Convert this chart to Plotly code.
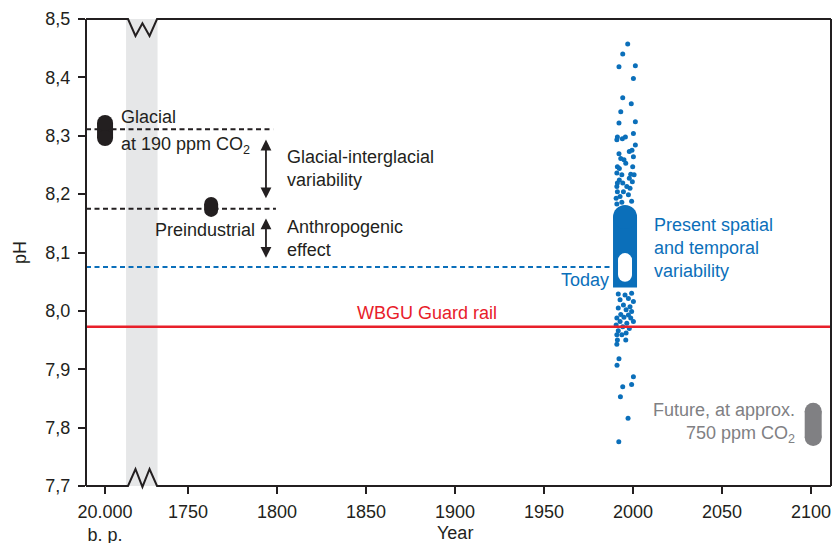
import plotly.graph_objects as go

# ---------------- data ----------------
x_range = [1692.7, 2111.2]
y_range = [7.7, 8.5]

y_ticks = [7.7, 7.8, 7.9, 8.0, 8.1, 8.2, 8.3, 8.4, 8.5]
y_tick_labels = ["7,7", "7,8", "7,9", "8,0", "8,1", "8,2", "8,3", "8,4", "8,5"]
x_ticks = [1703.4, 1750, 1800, 1850, 1900, 1950, 2000, 2050, 2100]
x_tick_labels = ["20.000<br>b. p.", "1750", "1800", "1850", "1900", "1950", "2000", "2050", "2100"]

# axis break (grey band) and zigzag positions (years)
break_band = [1715.2, 1732.9]
zigzag_years = [1716.3, 1720.5, 1724.4, 1728.4, 1732.6]

# levels
glacial_level = 8.311
preind_level = 8.175
today_level = 8.075
guard_rail = 7.973
glacial_line_end = 1797.8
preind_line_end = 1799.4
today_line_end = 1988.8

# pills: (year, [pH low, pH high])
glacial_year, glacial_ph = 1703.4, [8.296, 8.322]
preind_year, preind_ph = 1763.0, [8.173, 8.183]
present_year, present_core_ph = 1995.5, [8.040, 8.161]
today_ph = [8.062, 8.087]
future_year, future_ph = 2101.2, [7.783, 7.828]

# present spatial/temporal variability scatter points
dots_year = [
    1997.0, 1994.2, 1992.1, 2001.3, 2000.2, 1994.2, 1999.0, 1993.1, 1992.1, 2001.3,
    1991.2, 1990.9, 1994.0, 1995.7, 2000.2, 2001.3, 1992.1, 1993.1, 1994.9, 1997.9,
    1999.4, 2000.2, 1995.9, 1991.2, 1992.3, 1999.8, 1990.9, 1993.7, 1998.7, 2000.6,
    1997.9, 1992.3, 1991.2, 1994.2, 1999.6, 1996.5, 1998.3, 1990.9, 1991.2, 1994.6,
    1997.4, 1992.7, 1990.5, 1999.2, 1993.7, 1990.9,
    1991.7, 1995.5, 1999.2, 1992.7, 1997.4, 2000.2, 1994.6, 1998.3, 1991.7, 1996.1,
    1999.2, 1993.1, 1997.4, 1990.9, 1994.9, 1998.7, 1992.7, 1996.5, 2000.2, 1990.5,
    1994.2, 1997.9, 1991.7, 1996.1, 1990.9, 1993.7, 1991.2, 1995.9, 1990.9, 1992.1,
    1991.0, 2000.2, 1999.2, 1994.2, 1992.9, 1997.2, 1992.0,
]
dots_ph = [
    8.457, 8.440, 8.418, 8.420, 8.398, 8.365, 8.355, 8.341, 8.322, 8.324,
    8.298, 8.293, 8.295, 8.298, 8.304, 8.284, 8.269, 8.261, 8.259, 8.273,
    8.275, 8.264, 8.253, 8.247, 8.244, 8.247, 8.236, 8.233, 8.234, 8.233,
    8.227, 8.224, 8.219, 8.219, 8.221, 8.213, 8.210, 8.213, 8.204, 8.204,
    8.199, 8.196, 8.193, 8.188, 8.186, 8.183,
    8.029, 8.027, 8.030, 8.019, 8.021, 8.016, 8.010, 8.007, 8.005, 8.002,
    7.999, 7.994, 7.993, 7.988, 7.989, 7.988, 7.982, 7.979, 7.982, 7.976,
    7.973, 7.970, 7.966, 7.962, 7.959, 7.959, 7.950, 7.950, 7.943, 7.918,
    7.907, 7.887, 7.874, 7.870, 7.853, 7.816, 7.776,
]

# ---------------- style ----------------
FONT = "Liberation Sans, Arial, Helvetica, sans-serif"
DARK = "#231f20"
BLUE = "#0b6fba"
RED = "#e8202a"
GREY = "#808083"
FS = 18


def to_paper_x(year):
    return (year - x_range[0]) / (x_range[1] - x_range[0])


fig = go.Figure()

# dashed reference lines
for lvl, xe, col in [(glacial_level, glacial_line_end, DARK),
                     (preind_level, preind_line_end, DARK),
                     (today_level, today_line_end, BLUE)]:
    fig.add_trace(go.Scatter(x=[x_range[0], xe], y=[lvl, lvl], mode="lines",
                             line=dict(color=col, width=2, dash="5px,3.5px"),
                             hoverinfo="skip"))


def vline(year, ph, width, color):
    fig.add_trace(go.Scatter(x=[year, year], y=ph, mode="lines",
                             line=dict(color=color, width=width), hoverinfo="skip"))


def caps(year, ph, width, color):
    fig.add_trace(go.Scatter(x=[year] * len(ph), y=ph, mode="markers",
                             marker=dict(color=color, size=width, opacity=1,
                                         line=dict(width=0)),
                             hoverinfo="skip"))


def pill(year, ph, width, color):
    vline(year, ph, width, color)
    caps(year, ph, width, color)


# scatter dots
fig.add_trace(go.Scatter(x=dots_year, y=dots_ph, mode="markers",
                         marker=dict(color=BLUE, size=5, line=dict(width=0)),
                         hoverinfo="skip"))
# core of present variability (rounded top, flat bottom)
vline(present_year, present_core_ph, 24, BLUE)
caps(present_year, present_core_ph[1:], 24, BLUE)
# today (white)
pill(present_year, today_ph, 14, "white")
# glacial, preindustrial, future
pill(glacial_year, glacial_ph, 16, DARK)
pill(preind_year, preind_ph, 14, DARK)
pill(future_year, future_ph, 17, GREY)

# guard rail
fig.add_trace(go.Scatter(x=list(x_range), y=[guard_rail, guard_rail], mode="lines",
                         line=dict(color=RED, width=2.5), hoverinfo="skip"))

# ---------------- shapes (frame with axis break) ----------------
shapes = []
shapes.append(dict(type="rect", xref="x", yref="paper", x0=break_band[0], x1=break_band[1],
                   y0=0, y1=1, fillcolor="#e6e7e8", line=dict(width=0), layer="below"))
zx = [to_paper_x(v) for v in zigzag_years]
amp = 17 / 467.0
top_path = (f"M 0,1 L {zx[0]},1 L {zx[1]},{1-amp} L {zx[2]},{1-amp*0.25} "
            f"L {zx[3]},{1-amp} L {zx[4]},1 L 1,1")
bot_path = (f"M 0,0 L {zx[0]},0 L {zx[1]},{amp} L {zx[2]},{-0.002} "
            f"L {zx[3]},{amp} L {zx[4]},0 L 1,0")
for p in (top_path, bot_path):
    shapes.append(dict(type="path", xref="paper", yref="paper", path=p,
                       line=dict(color=DARK, width=2)))
shapes.append(dict(type="line", xref="paper", yref="paper", x0=0, x1=0, y0=0, y1=1,
                   line=dict(color=DARK, width=2)))
shapes.append(dict(type="line", xref="paper", yref="paper", x0=1, x1=1, y0=0, y1=1,
                   line=dict(color=DARK, width=2)))

# ---------------- annotations ----------------
ann = []


def text(x, y, s, color=DARK, xanchor="left"):
    ann.append(dict(x=x, y=y, xref="x", yref="y", text=s, showarrow=False,
                    xanchor=xanchor, yanchor="middle",
                    font=dict(family=FONT, size=FS, color=color)))


text(1711.2, 8.332, "Glacial")
text(1711.2, 8.283, "at 190 ppm CO<sub>2</sub>")
text(1759.3, 8.139, "Preindustrial", xanchor="center")
text(1804.5, 8.264, "Glacial-interglacial")
text(1804.5, 8.224, "variability")
text(1804.5, 8.144, "Anthropogenic")
text(1804.5, 8.104, "effect")
text(2010.7, 8.147, "Present spatial", BLUE)
text(2010.7, 8.108, "and temporal", BLUE)
text(2010.7, 8.068, "variability", BLUE)
text(1987.6, 8.053, "Today", BLUE, xanchor="right")
text(1884.3, 7.997, "WBGU Guard rail", RED, xanchor="center")
text(2092.1, 7.830, "Future, at approx.", GREY, xanchor="right")
text(2092.1, 7.789, "750 ppm CO<sub>2</sub>", GREY, xanchor="right")

# double-headed arrows
for y0, y1 in [(8.296, 8.193), (8.161, 8.091)]:
    ann.append(dict(x=1793.8, y=y1, ax=1793.8, ay=y0, xref="x", yref="y",
                    axref="x", ayref="y", showarrow=True, text="",
                    arrowhead=2, startarrowhead=2, arrowside="end+start",
                    arrowsize=1.2, startarrowsize=1.2, arrowwidth=1.8, arrowcolor=DARK))

# x axis title
ann.append(dict(x=to_paper_x(1900), y=0, xref="paper",
                yref="paper", yshift=-47, text="Year", showarrow=False,
                xanchor="center", yanchor="middle",
                font=dict(family=FONT, size=FS, color=DARK)))

fig.update_layout(
    width=835, height=543,
    margin=dict(l=86, r=4, t=19, b=57, autoexpand=False),
    paper_bgcolor="white", plot_bgcolor="white",
    showlegend=False,
    font=dict(family=FONT, size=FS, color=DARK),
    shapes=shapes, annotations=ann,
    xaxis=dict(range=x_range, tickvals=x_ticks, ticktext=x_tick_labels,
               ticks="outside", ticklen=7, tickwidth=2, tickcolor=DARK,
               ticklabelstandoff=2, automargin=False,
               showgrid=False, zeroline=False, showline=False,
               tickfont=dict(family=FONT, size=FS, color=DARK)),
    yaxis=dict(range=y_range, tickvals=y_ticks, ticktext=y_tick_labels,
               ticks="outside", ticklen=7, tickwidth=2, tickcolor=DARK,
               ticklabelstandoff=4, automargin=False,
               showgrid=False, zeroline=False, showline=False,
               tickfont=dict(family=FONT, size=FS, color=DARK),
               title=dict(text="pH", standoff=14, font=dict(family=FONT, size=FS, color=DARK))),
)

# remove the default page margin so the figure sits at the window's top-left corner
fig.write_html("out.html", config={"displayModeBar": False},
               post_script="document.body.style.margin='0';")
